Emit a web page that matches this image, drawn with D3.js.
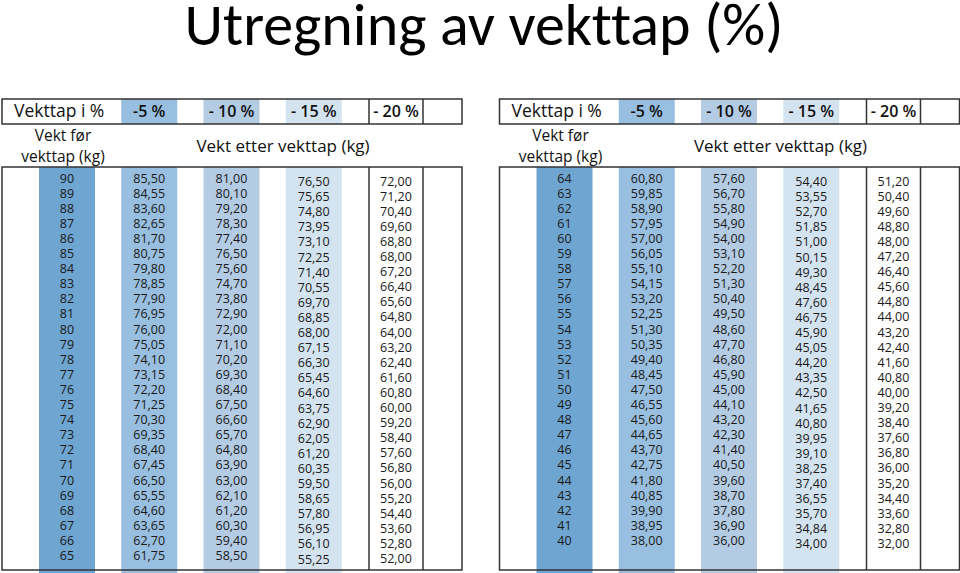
<!DOCTYPE html>
<html><head><meta charset="utf-8">
<script src="https://cdn.jsdelivr.net/npm/d3@7"></script>
<style>body{margin:0;background:#fff}svg{display:block}</style>
</head><body><svg id="c" width="960" height="573"></svg>
<script>
const title = "Utregning av vekttap (%)";
const headerLabel = "Vekttap i %";
const lossLabels = ["-5 %", "- 10 %", "- 15 %", "- 20 %"];
const colHead1 = ["Vekt før", "vekttap (kg)"];
const colHead2 = "Vekt etter vekttap (kg)";

// Left table
const weightsA = ["90","89","88","87","86","85","84","83","82","81","80","79","78","77","76","75","74","73","72","71","70","69","68","67","66","65"];
const minus5A  = ["85,50","84,55","83,60","82,65","81,70","80,75","79,80","78,85","77,90","76,95","76,00","75,05","74,10","73,15","72,20","71,25","70,30","69,35","68,40","67,45","66,50","65,55","64,60","63,65","62,70","61,75"];
const minus10A = ["81,00","80,10","79,20","78,30","77,40","76,50","75,60","74,70","73,80","72,90","72,00","71,10","70,20","69,30","68,40","67,50","66,60","65,70","64,80","63,90","63,00","62,10","61,20","60,30","59,40","58,50"];
const minus15A = ["76,50","75,65","74,80","73,95","73,10","72,25","71,40","70,55","69,70","68,85","68,00","67,15","66,30","65,45","64,60","63,75","62,90","62,05","61,20","60,35","59,50","58,65","57,80","56,95","56,10","55,25"];
const minus20A = ["72,00","71,20","70,40","69,60","68,80","68,00","67,20","66,40","65,60","64,80","64,00","63,20","62,40","61,60","60,80","60,00","59,20","58,40","57,60","56,80","56,00","55,20","54,40","53,60","52,80","52,00"];

// Right table
const weightsB = ["64","63","62","61","60","59","58","57","56","55","54","53","52","51","50","49","48","47","46","45","44","43","42","41","40"];
const minus5B  = ["60,80","59,85","58,90","57,95","57,00","56,05","55,10","54,15","53,20","52,25","51,30","50,35","49,40","48,45","47,50","46,55","45,60","44,65","43,70","42,75","41,80","40,85","39,90","38,95","38,00"];
const minus10B = ["57,60","56,70","55,80","54,90","54,00","53,10","52,20","51,30","50,40","49,50","48,60","47,70","46,80","45,90","45,00","44,10","43,20","42,30","41,40","40,50","39,60","38,70","37,80","36,90","36,00"];
const minus15B = ["54,40","53,55","52,70","51,85","51,00","50,15","49,30","48,45","47,60","46,75","45,90","45,05","44,20","43,35","42,50","41,65","40,80","39,95","39,10","38,25","37,40","36,55","35,70","34,84","34,00"];
const minus20B = ["51,20","50,40","49,60","48,80","48,00","47,20","46,40","45,60","44,80","44,00","43,20","42,40","41,60","40,80","40,00","39,20","38,40","37,60","36,80","36,00","35,20","34,40","33,60","32,80","32,00"];

const colKeys = ["w","p5","p10","p15","p20"];
const colFills = ["#6fa5d1","#98bfdf","#b3cce4","#d4e3f0",null];
const colDy = [0,0,0,3.5,3];

const svg = d3.select("#c");
const FONT = "'Open Sans', sans-serif";

svg.append("text").attr("x",484).attr("y",45).attr("text-anchor","middle")
  .attr("font-family","Carlito, Calibri, Lato, sans-serif").attr("font-size",60)
  .style("font-variant-ligatures","none").style("font-feature-settings","'liga' 0")
  .attr("fill","#000").text(title);

function drawTable(ox, cols){
  const g = svg.append("g").attr("transform",`translate(${ox},0)`);
  const x = d3.scalePoint().domain(colKeys).range([67,396]);
  const cw = 56;
  const y = d3.scaleLinear().domain([0,25]).range([178,555.5]);
  const stroke = "#333";

  colKeys.forEach((k,i)=>{
    if(i>0 && colFills[i]) g.append("rect").attr("x",x(k)-cw/2).attr("y",99).attr("width",cw).attr("height",25).attr("fill",colFills[i]);
  });
  colKeys.forEach((k,i)=>{
    if(colFills[i]) g.append("rect").attr("x",x(k)-cw/2).attr("y",167).attr("width",cw).attr("height",406).attr("fill",colFills[i]);
  });
  const L=2, R=462;
  g.append("rect").attr("x",L).attr("y",99).attr("width",R-L).attr("height",25).attr("fill","none").attr("stroke",stroke).attr("stroke-width",1.5);
  g.append("rect").attr("x",L).attr("y",167).attr("width",R-L).attr("height",403).attr("fill","none").attr("stroke",stroke).attr("stroke-width",1.5);
  const xl = x("p20")-27, xr = x("p20")+27;
  [xl,xr].forEach(v=>{
    g.append("line").attr("x1",v).attr("x2",v).attr("y1",99).attr("y2",124).attr("stroke",stroke).attr("stroke-width",1.5);
    g.append("line").attr("x1",v).attr("x2",v).attr("y1",167).attr("y2",570).attr("stroke",stroke).attr("stroke-width",1.5);
  });

  g.append("text").attr("x",14).attr("y",117).attr("font-family",FONT).attr("font-size",17.5).attr("fill","#111").text(headerLabel);
  lossLabels.forEach((s,i)=>{
    g.append("text").attr("x",x(colKeys[i+1])).attr("y",117).attr("text-anchor","middle")
      .attr("font-family",FONT).attr("font-weight",600).attr("font-size",16).attr("fill","#111").text(s);
  });
  g.append("text").attr("x",63).attr("y",140.5).attr("text-anchor","middle").attr("font-family",FONT).attr("font-size",15.5).attr("fill","#111").text(colHead1[0]);
  g.append("text").attr("x",63).attr("y",162).attr("text-anchor","middle").attr("font-family",FONT).attr("font-size",15.5).attr("fill","#111").text(colHead1[1]);
  g.append("text").attr("x",283).attr("y",152).attr("text-anchor","middle").attr("font-family",FONT).attr("font-size",17).attr("fill","#111").text(colHead2);

  colKeys.forEach((k,ci)=>{
    g.append("g").selectAll("text").data(cols[ci]).join("text")
      .attr("x",x(k)).attr("y",(d,i)=>y(i)+colDy[ci]).attr("dy","0.36em").attr("text-anchor","middle")
      .attr("font-family",FONT).attr("font-size",12.5).attr("fill","#1a1a1a").text(d=>d);
  });
}
drawTable(0,[weightsA,minus5A,minus10A,minus15A,minus20A]);
drawTable(497.5,[weightsB,minus5B,minus10B,minus15B,minus20B]);
</script></body></html>
